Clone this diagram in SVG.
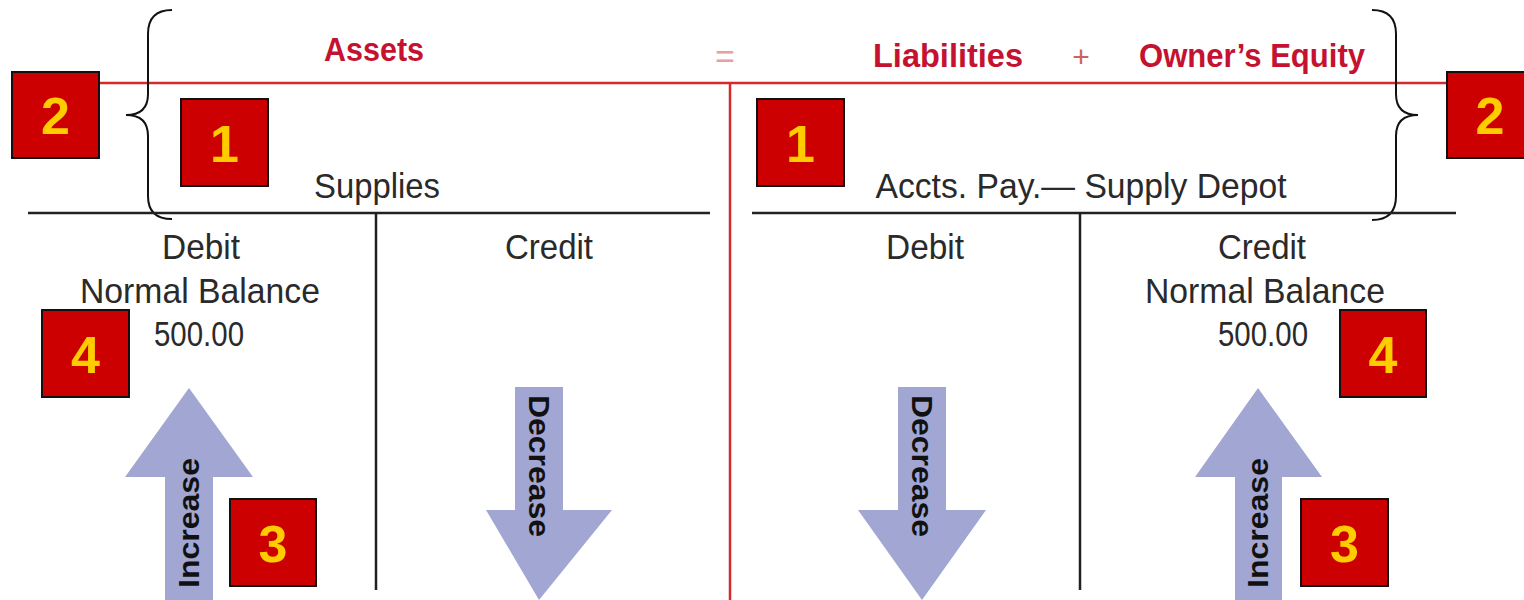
<svg xmlns="http://www.w3.org/2000/svg" width="1524" height="600" viewBox="0 0 1524 600">
<style>
.box{fill:#CC0000;stroke:#111;stroke-width:2}
.num{font-family:"Liberation Sans",Arial,sans-serif;font-weight:bold;font-size:52px;fill:#FFCC00;text-anchor:middle}
.hdr{font-family:"Liberation Sans",Arial,sans-serif;font-weight:bold;font-size:34px;fill:#C41230;text-anchor:middle}
.lbl{font-family:"Liberation Sans",Arial,sans-serif;font-size:35px;fill:#2a2a2a;text-anchor:middle}
.arr{fill:#A2A6D2}
.atxt{font-family:"Liberation Sans",Arial,sans-serif;font-weight:bold;font-size:30px;fill:#111;text-anchor:middle}
.red{stroke:#D42A2A;stroke-width:2.5;fill:none}
.blk{stroke:#222;stroke-width:2.5;fill:none}
.brace{stroke:#111;stroke-width:2;fill:none}
</style>
<rect width="1524" height="600" fill="#fff"/>
<g id="equation">
<line class="red" x1="97" y1="83" x2="1447" y2="83"/>
<line class="red" x1="730" y1="83" x2="730" y2="600"/>
<text class="hdr" x="374" y="61" textLength="100" lengthAdjust="spacingAndGlyphs">Assets</text>
<text class="hdr" x="725" y="68" style="fill:#E8A0A0;font-weight:normal">=</text>
<text class="hdr" x="948" y="67" textLength="150" lengthAdjust="spacingAndGlyphs">Liabilities</text>
<text class="hdr" x="1081" y="67" style="font-weight:normal;fill:#D06060;font-size:30px">+</text>
<text class="hdr" x="1252" y="67" textLength="226" lengthAdjust="spacingAndGlyphs">Owner’s Equity</text>
</g>
<g id="braces">
<path class="brace" d="M172,10 Q148,10 148,34 L148,94 Q148,115 126,115 Q148,115 148,136 L148,196 Q148,219 172,219"/>
<path class="brace" d="M1372,10 Q1396,10 1396,34 L1396,94 Q1396,115 1418,115 Q1396,115 1396,136 L1396,196 Q1396,220 1372,220"/>
</g>
<g id="supplies-account">
<text class="lbl" x="377" y="198" textLength="126" lengthAdjust="spacingAndGlyphs">Supplies</text>
<line class="blk" x1="28" y1="213" x2="710" y2="213"/>
<line class="blk" x1="376" y1="213" x2="376" y2="590"/>
<text class="lbl" x="201" y="259" textLength="78" lengthAdjust="spacingAndGlyphs">Debit</text>
<text class="lbl" x="200" y="303" textLength="240" lengthAdjust="spacingAndGlyphs">Normal Balance</text>
<text class="lbl" x="199" y="346" textLength="90" lengthAdjust="spacingAndGlyphs">500.00</text>
<text class="lbl" x="549" y="259" textLength="88" lengthAdjust="spacingAndGlyphs">Credit</text>
</g>
<g id="payable-account">
<text class="lbl" x="1081" y="198" textLength="411" lengthAdjust="spacingAndGlyphs">Accts. Pay.— Supply Depot</text>
<line class="blk" x1="752" y1="213" x2="1456" y2="213"/>
<line class="blk" x1="1080" y1="213" x2="1080" y2="590"/>
<text class="lbl" x="925" y="259" textLength="78" lengthAdjust="spacingAndGlyphs">Debit</text>
<text class="lbl" x="1262" y="259" textLength="88" lengthAdjust="spacingAndGlyphs">Credit</text>
<text class="lbl" x="1265" y="303" textLength="240" lengthAdjust="spacingAndGlyphs">Normal Balance</text>
<text class="lbl" x="1263" y="346" textLength="90" lengthAdjust="spacingAndGlyphs">500.00</text>
</g>
<g id="arrows">
<polygon class="arr" points="189,388 253,477 213,477 213,600 165,600 165,477 125,477"/>
<text class="atxt" transform="translate(199,523) rotate(-90)" textLength="130" lengthAdjust="spacingAndGlyphs">Increase</text>
<polygon class="arr" points="515,387 563,387 563,510 612,510 539,600 486,510 515,510"/>
<text class="atxt" transform="translate(529,466) rotate(90)" textLength="142" lengthAdjust="spacingAndGlyphs">Decrease</text>
<polygon class="arr" points="898,387 946,387 946,510 986,510 922,600 858,510 898,510"/>
<text class="atxt" transform="translate(912,466) rotate(90)" textLength="142" lengthAdjust="spacingAndGlyphs">Decrease</text>
<polygon class="arr" points="1258,388 1322,477 1282,477 1282,600 1235,600 1235,477 1195,477"/>
<text class="atxt" transform="translate(1268,523) rotate(-90)" textLength="130" lengthAdjust="spacingAndGlyphs">Increase</text>
</g>
<g id="badge-2-left"><rect class="box" x="12" y="72" width="87" height="86"/><text class="num" x="55.5" y="134">2</text></g>
<g id="badge-2-right"><rect class="box" x="1447" y="72" width="86" height="86"/><text class="num" x="1490" y="134">2</text></g>
<g id="badge-1-left"><rect class="box" x="181" y="99" width="87" height="87"/><text class="num" x="224.5" y="162">1</text></g>
<g id="badge-1-right"><rect class="box" x="757" y="99" width="87" height="87"/><text class="num" x="800.5" y="162">1</text></g>
<g id="badge-4-left"><rect class="box" x="42" y="310" width="87" height="87"/><text class="num" x="85.5" y="373">4</text></g>
<g id="badge-4-right"><rect class="box" x="1340" y="310" width="86" height="87"/><text class="num" x="1383" y="373">4</text></g>
<g id="badge-3-left"><rect class="box" x="230" y="499" width="86" height="87"/><text class="num" x="273" y="562">3</text></g>
<g id="badge-3-right"><rect class="box" x="1301" y="499" width="87" height="87"/><text class="num" x="1344.5" y="562">3</text></g>
</svg>
